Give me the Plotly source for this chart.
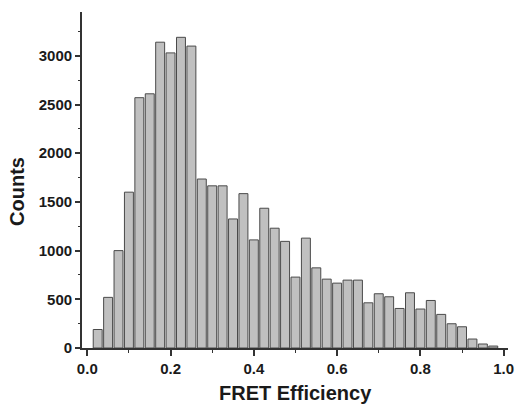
import plotly.graph_objects as go

# FRET efficiency histogram (bin centres, width 0.025)
efficiency = [round(0.025 * i, 3) for i in range(1, 40)]
counts = [190, 520, 1000, 1600, 2570, 2610, 3140, 3030, 3190, 3100,
          1735, 1665, 1665, 1325, 1585, 1110, 1435, 1230, 1095, 728,
          1128, 823, 707, 666, 697, 697, 464, 557, 526, 406,
          567, 400, 488, 345, 249, 218, 92, 41, 20]

x_ticks = [0.0, 0.2, 0.4, 0.6, 0.8, 1.0]
x_tick_text = ["0.0", "0.2", "0.4", "0.6", "0.8", "1.0"]
y_ticks = [0, 500, 1000, 1500, 2000, 2500, 3000]

FONT = "Liberation Sans, Arial, sans-serif"
AXIS_COLOR = "#333333"
TEXT_COLOR = "#1a1a1a"

fig = go.Figure(
    go.Bar(
        x=efficiency,
        y=counts,
        width=0.0215,
        marker=dict(color="#c0c0c0", line=dict(color="#4a4a4a", width=1)),
    )
)

title_font = dict(size=20, family=FONT, color=TEXT_COLOR, weight="bold")

fig.update_layout(
    width=515,
    height=406,
    margin=dict(l=82, r=7, t=12, b=58, autoexpand=False),
    paper_bgcolor="white",
    plot_bgcolor="white",
    showlegend=False,
    font=dict(family=FONT, color=TEXT_COLOR),
    annotations=[
        dict(text="FRET Efficiency", xref="paper", yref="paper",
             x=0.5, y=0, yshift=-45, xanchor="center", yanchor="middle",
             showarrow=False, font=title_font),
        dict(text="Counts", xref="paper", yref="paper",
             x=0, y=0.466, xshift=-64.5, xanchor="center", yanchor="middle",
             textangle=-90, showarrow=False, font=title_font),
    ],
)

tick_font = dict(size=15, family=FONT, color=TEXT_COLOR, weight="bold")

fig.update_xaxes(
    range=[-0.0127, 1.0104],
    tickvals=x_ticks,
    ticktext=x_tick_text,
    ticks="outside",
    ticklen=6,
    tickwidth=1.5,
    tickcolor=AXIS_COLOR,
    tickfont=tick_font,
    automargin=False,
    showline=True,
    linecolor=AXIS_COLOR,
    linewidth=1.8,
    showgrid=False,
    zeroline=False,
    minor=dict(tickvals=[0.1, 0.3, 0.5, 0.7, 0.9], ticks="outside",
               ticklen=3, tickwidth=1.2, tickcolor=AXIS_COLOR, showgrid=False),
)

fig.update_yaxes(
    range=[0, 3450],
    tickvals=y_ticks,
    ticks="outside",
    ticklen=5,
    tickwidth=1.5,
    tickcolor=AXIS_COLOR,
    tickfont=tick_font,
    automargin=False,
    showline=True,
    linecolor=AXIS_COLOR,
    linewidth=1.8,
    showgrid=False,
    zeroline=False,
    minor=dict(tickvals=[250, 750, 1250, 1750, 2250, 2750, 3250], ticks="outside",
               ticklen=2.5, tickwidth=1.2, tickcolor=AXIS_COLOR, showgrid=False),
)

fig.write_html("out.html")
